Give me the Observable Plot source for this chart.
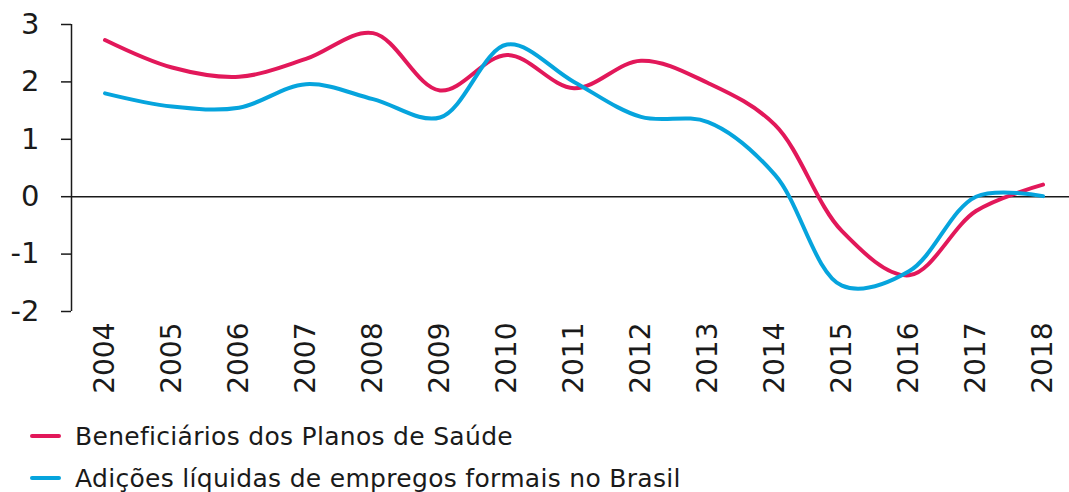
<!DOCTYPE html>
<html>
<head>
<meta charset="utf-8">
<script src="https://cdn.jsdelivr.net/npm/d3@7"></script>
<script src="https://cdn.jsdelivr.net/npm/@observablehq/plot@0.6"></script>
<style>
  html, body { margin: 0; padding: 0; background: #fff; }
  body { width: 1069px; height: 492px; overflow: hidden; font-family: "DejaVu Sans", sans-serif; color: #1a1a1a; }
  #legend { position: absolute; left: 0; top: 0; width: 1069px; }
  .row { position: absolute; left: 30px; display: flex; align-items: center; font-size: 25px; letter-spacing: 0.3px; white-space: nowrap; }
  .sw { width: 31px; height: 4px; border-radius: 2px; margin-right: 14px; }
</style>
</head>
<body>
<div id="chart"></div>
<div id="legend"></div>
<script>
const years = [2004, 2005, 2006, 2007, 2008, 2009, 2010, 2011, 2012, 2013, 2014, 2015, 2016, 2017, 2018];
const beneficiarios = [2.73, 2.25, 2.09, 2.40, 2.85, 1.85, 2.47, 1.89, 2.37, 1.98, 1.25, -0.60, -1.37, -0.25, 0.21];
const empregos = [1.80, 1.57, 1.55, 1.96, 1.70, 1.38, 2.65, 2.00, 1.39, 1.30, 0.38, -1.55, -1.30, 0.00, 0.01];
const yTicks = [-2, -1, 0, 1, 2, 3];
const seriesNames = ["Beneficiários dos Planos de Saúde", "Adições líquidas de empregos formais no Brasil"];
const seriesColors = ["#E2185A", "#06A4DD"];

const xDomain = [2003.5, 2018.5];
const rowsA = years.map((y, i) => ({year: y, value: beneficiarios[i]}));
const rowsB = years.map((y, i) => ({year: y, value: empregos[i]}));

const plot = Plot.plot({
  width: 1069,
  height: 400,
  marginTop: 24,
  marginBottom: 89,
  marginLeft: 71,
  marginRight: 0,
  style: {fontFamily: "DejaVu Sans, sans-serif", color: "#1a1a1a", background: "#fff"},
  x: {domain: xDomain, range: [71, 1076]},
  y: {domain: [-2, 3]},
  marks: [
    Plot.ruleY([0], {stroke: "#1a1a1a", strokeWidth: 1.5}),
    Plot.ruleX([xDomain[0]], {y1: -2, y2: 3, stroke: "#1a1a1a", strokeWidth: 1.5}),
    Plot.axisY(yTicks, {tickSize: 10, tickPadding: 22, fontSize: 29, stroke: "#1a1a1a", strokeWidth: 1.5, tickFormat: d => String(d), label: null}),
    Plot.axisX(years, {tickSize: 0, tickPadding: 11, tickRotate: -90, fontSize: 28, tickFormat: d => String(d), label: null}),
    Plot.line(rowsA, {x: "year", y: "value", stroke: seriesColors[0], strokeWidth: 4, curve: "catmull-rom"}),
    Plot.line(rowsB, {x: "year", y: "value", stroke: seriesColors[1], strokeWidth: 4, curve: "catmull-rom"})
  ]
});
document.getElementById("chart").appendChild(plot);

const legend = document.getElementById("legend");
const rowTops = [436, 478];
seriesNames.forEach((name, i) => {
  const row = document.createElement("div");
  row.className = "row";
  row.style.top = (rowTops[i] - 16) + "px";
  row.style.height = "32px";
  const sw = document.createElement("span");
  sw.className = "sw";
  sw.style.background = seriesColors[i];
  const tx = document.createElement("span");
  tx.textContent = name;
  row.appendChild(sw);
  row.appendChild(tx);
  legend.appendChild(row);
});
</script>
</body>
</html>
